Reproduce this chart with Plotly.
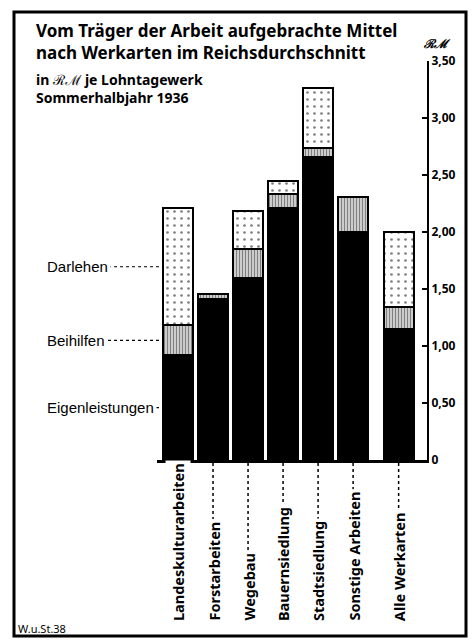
import plotly.graph_objects as go

# ---- data ----
categories = ["Landeskulturarbeiten", "Forstarbeiten", "Wegebau", "Bauernsiedlung",
              "Stadtsiedlung", "Sonstige Arbeiten", "Alle Werkarten"]
eigenleistungen = [0.92, 1.41, 1.60, 2.21, 2.66, 2.00, 1.15]
beihilfen = [0.26, 0.05, 0.25, 0.12, 0.08, 0.31, 0.19]
darlehen = [1.03, 0.00, 0.33, 0.12, 0.52, 0.00, 0.66]
series_names = ["Eigenleistungen", "Beihilfen", "Darlehen"]
tick_vals = [0, 0.5, 1.0, 1.5, 2.0, 2.5, 3.0, 3.5]
tick_text = ["0", "0,50", "1,00", "1,50", "2,00", "2,50", "3,00", "3,50"]
title_main = ["Vom Träger der Arbeit aufgebrachte Mittel", "nach Werkarten im Reichsdurchschnitt"]
title_sub = ["in ℛℳ je Lohntagewerk", "Sommerhalbjahr 1936"]

# ---- layout helpers ----
positions = [0, 1, 2, 3, 4, 5, 6.3]
bar_w = 0.86
x_range = [-0.6, 7.11]
W, H = 476, 641
ML, MR, MT, MB = 157, 49, 61, 181
PW, PH = W - ML - MR, H - MT - MB

def px(xp):
    return (xp - ML) / PW

def py(yp):
    return (H - MB - yp) / PH

def data_to_paper_x(x):
    return (x - x_range[0]) / (x_range[1] - x_range[0])

NARROW = "Noto Sans, Roboto, sans-serif"
REG = "Liberation Sans, Arial, sans-serif"

def nfont(size, bold=True):
    d = dict(family=NARROW, size=size, color="black")
    if bold:
        d["weight"] = "bold"
    return d

fig = go.Figure()
fig.add_trace(go.Bar(x=positions, y=eigenleistungen, name=series_names[0], width=bar_w,
                     marker=dict(color="black", line=dict(color="black", width=2))))
fig.add_trace(go.Bar(x=positions, y=beihilfen, name=series_names[1], width=bar_w,
                     marker=dict(color="white", line=dict(color="black", width=2),
                                 pattern=dict(shape="|", fgcolor="black", bgcolor="white",
                                              size=3, solidity=0.6))))
fig.add_trace(go.Bar(x=positions, y=darlehen, name=series_names[2], width=bar_w,
                     marker=dict(color="white", line=dict(color="black", width=2),
                                 pattern=dict(shape=".", fgcolor="black", bgcolor="white",
                                              size=7, solidity=0.12))))

annotations = []
shapes = []

# category labels with dotted leaders
for xpos, cat in zip(positions, categories):
    shapes.append(dict(type="line", xref="x", yref="paper", x0=xpos, x1=xpos,
                       y0=py(463), y1=py(622), line=dict(color="black", width=1.5, dash="dot")))
    annotations.append(dict(x=xpos, y=py(624), xref="x", yref="paper", text=cat,
                            textangle=-90, showarrow=False, xanchor="center", yanchor="bottom",
                            bgcolor="white", borderpad=2, font=nfont(14.5)))

# series labels on the left, pointing to the first bar
first = [eigenleistungen[0], beihilfen[0], darlehen[0]]
cum = 0
bar_left = data_to_paper_x(positions[0] - bar_w / 2)
for name, v in zip(series_names, first):
    mid = cum + v / 2
    cum += v
    shapes.append(dict(type="line", xref="paper", yref="y", x0=px(60), x1=bar_left,
                       y0=mid, y1=mid, line=dict(color="black", width=1.2, dash="3px,3px")))
    annotations.append(dict(x=px(44), y=mid, xref="paper", yref="y", text=name,
                            showarrow=False, xanchor="left", yanchor="middle",
                            bgcolor="white", borderpad=2,
                            font=dict(family=REG, size=15, color="black")))

# title block
annotations.append(dict(x=px(34), y=py(42), xref="paper", yref="paper", text="<br>".join(title_main),
                        showarrow=False, xanchor="left", yanchor="middle", align="left",
                        font=nfont(17)))
annotations.append(dict(x=px(34), y=py(88), xref="paper", yref="paper", text="<br>".join(title_sub),
                        showarrow=False, xanchor="left", yanchor="middle", align="left",
                        font=nfont(14)))

# unit label
annotations.append(dict(x=px(437), y=py(44), xref="paper", yref="paper", text="<i>ℛℳ</i>",
                        showarrow=False, xanchor="center", yanchor="middle",
                        font=dict(family="DejaVu Serif, serif", size=12, color="black", weight="bold")))
# source
annotations.append(dict(x=px(16), y=py(628), xref="paper", yref="paper", text="W.u.St.38",
                        showarrow=False, xanchor="left", yanchor="middle", font=nfont(11, bold=False)))

# frame
shapes.append(dict(type="rect", xref="paper", yref="paper", x0=px(14), x1=px(466),
                   y0=py(636), y1=py(12), line=dict(color="black", width=3)))

fig.update_layout(
    width=W, height=H, barmode="stack", showlegend=False,
    paper_bgcolor="white", plot_bgcolor="white",
    margin=dict(l=ML, r=MR, t=MT, b=MB, pad=0),
    xaxis=dict(range=x_range, showline=True, linecolor="black", linewidth=3,
               showticklabels=False, ticks="", showgrid=False, zeroline=False, fixedrange=True),
    yaxis=dict(range=[0, 3.5], side="right", showline=True, linecolor="black", linewidth=2,
               ticks="inside", ticklen=5, tickwidth=2, tickcolor="black",
               tickvals=tick_vals, ticktext=tick_text, showgrid=False, zeroline=False,
               tickfont=nfont(12)),
    annotations=annotations, shapes=shapes,
)

post = "document.body.style.margin='0';document.body.style.overflow='hidden';"
fig.write_html("out.html", post_script=post, config={"displayModeBar": False})
